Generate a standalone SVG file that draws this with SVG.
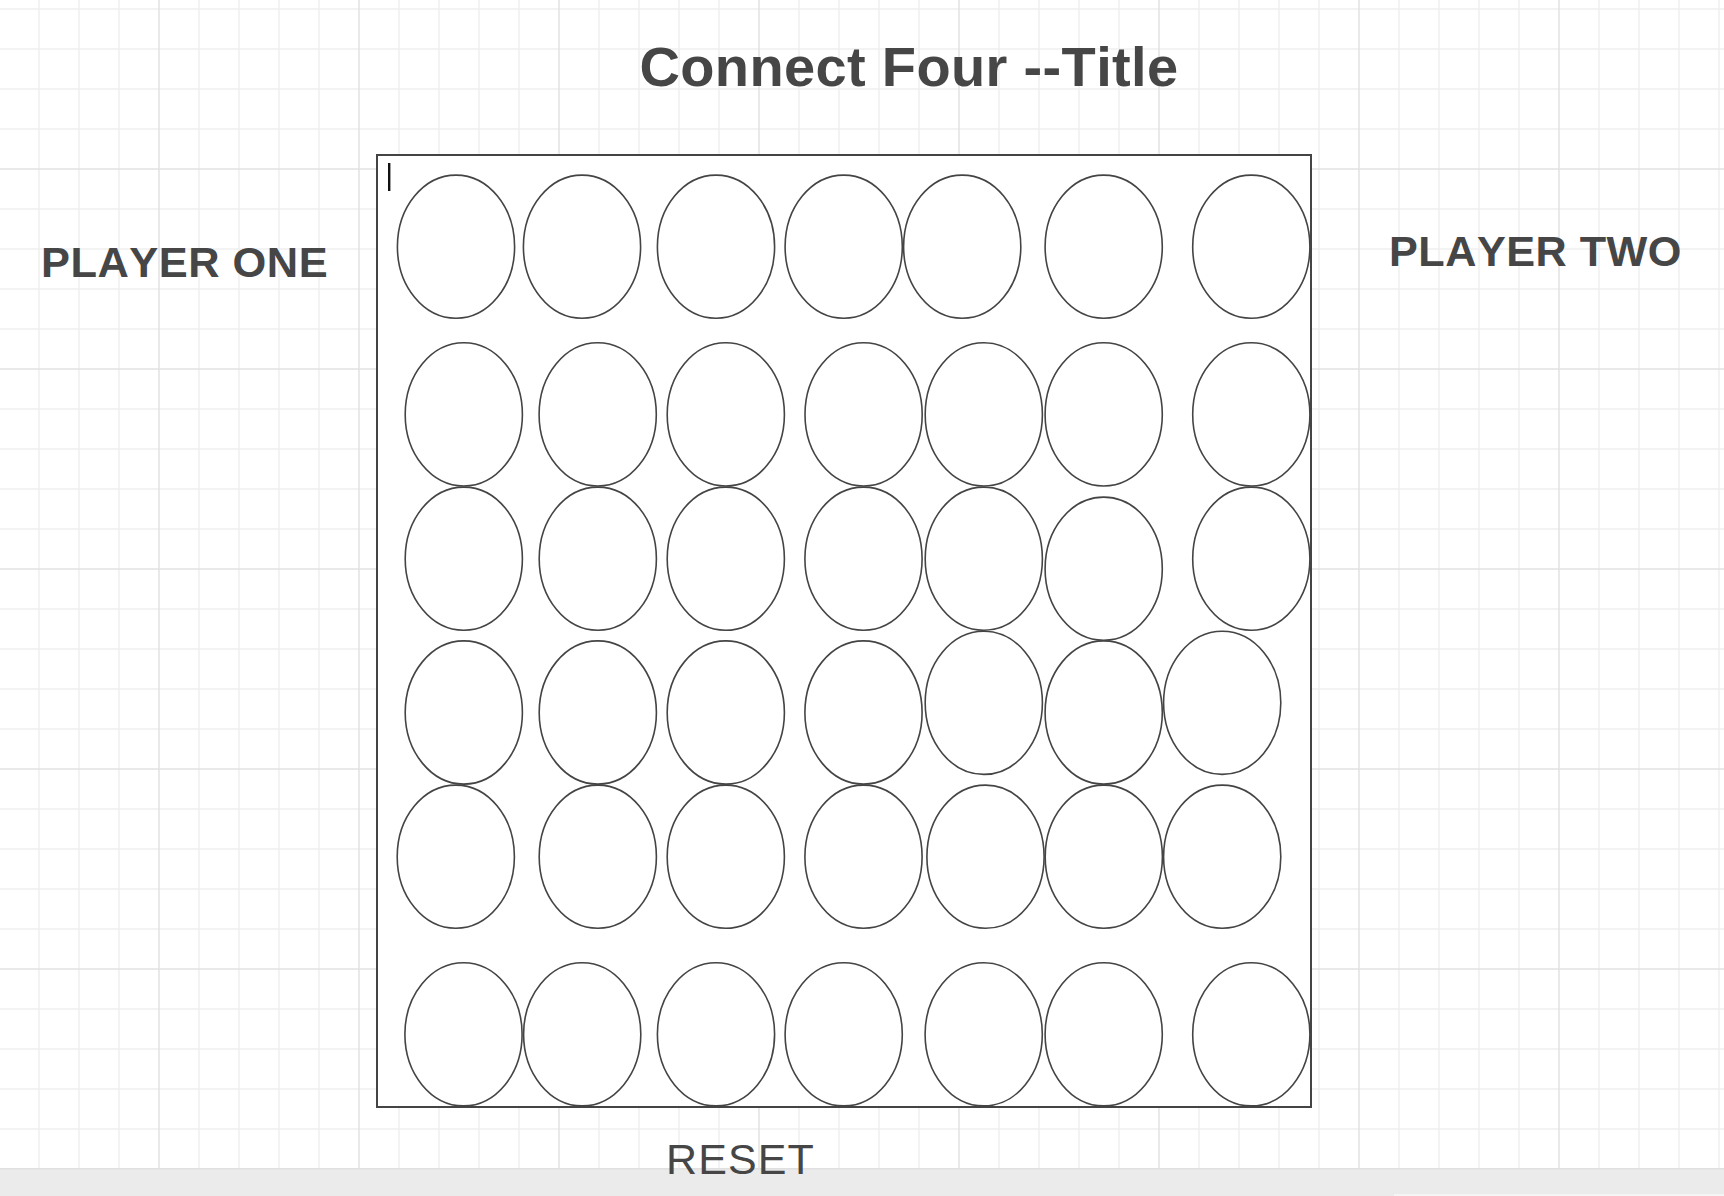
<svg xmlns="http://www.w3.org/2000/svg" width="1724" height="1196" viewBox="0 0 1724 1196">
<style>
.minor{stroke:#efefef;stroke-width:1.5;fill:none}
.major{stroke:#e2e2e2;stroke-width:1.5;fill:none}
.cell{fill:#ffffff;stroke:#444444;stroke-width:1.6}
.board{fill:#ffffff;stroke:#444444;stroke-width:2}
.lbl{font-family:"Liberation Sans",Arial,sans-serif;fill:#464646;font-kerning:none}
.b{font-weight:bold}
</style>
<rect x="0" y="0" width="1724" height="1196" fill="#ffffff"/>
<g id="grid">
<path class="minor" d="M39 0V1168M79 0V1168M119 0V1168M199 0V1168M239 0V1168M279 0V1168M319 0V1168M399 0V1168M439 0V1168M479 0V1168M519 0V1168M599 0V1168M639 0V1168M679 0V1168M719 0V1168M799 0V1168M839 0V1168M879 0V1168M919 0V1168M999 0V1168M1039 0V1168M1079 0V1168M1119 0V1168M1199 0V1168M1239 0V1168M1279 0V1168M1319 0V1168M1399 0V1168M1439 0V1168M1479 0V1168M1519 0V1168M1599 0V1168M1639 0V1168M1679 0V1168M1719 0V1168"/>
<path class="minor" d="M0 9H1724M0 49H1724M0 89H1724M0 129H1724M0 209H1724M0 249H1724M0 289H1724M0 329H1724M0 409H1724M0 449H1724M0 489H1724M0 529H1724M0 609H1724M0 649H1724M0 689H1724M0 729H1724M0 809H1724M0 849H1724M0 889H1724M0 929H1724M0 1009H1724M0 1049H1724M0 1089H1724M0 1129H1724"/>
<path class="major" d="M159 0V1168M359 0V1168M559 0V1168M759 0V1168M959 0V1168M1159 0V1168M1359 0V1168M1559 0V1168M0 169H1724M0 369H1724M0 569H1724M0 769H1724M0 969H1724"/>
</g>
<g id="bottom-bar">
<rect x="0" y="1168" width="1724" height="28" fill="#ebebeb"/>
<rect x="0" y="1168" width="1724" height="1.5" fill="#e0e0e0"/>
<rect x="1394" y="1194" width="330" height="2" fill="#f5f5f5"/>
</g>
<g id="title"><text class="lbl b" x="909" y="86" font-size="56" letter-spacing="0.35" text-anchor="middle">Connect Four --Title</text></g>
<g id="player-one"><text class="lbl b" x="41" y="277" font-size="43.4" letter-spacing="0.5">PLAYER ONE</text></g>
<g id="player-two"><text class="lbl b" x="1389" y="266" font-size="43.2" letter-spacing="0.5">PLAYER TWO</text></g>
<g id="board">
<rect class="board" x="377" y="155" width="934" height="952"/>
<rect x="388" y="163" width="2.4" height="28" fill="#111111"/>
</g>
<g id="cells">
<g id="r1c1"><ellipse class="cell" cx="456" cy="246.7" rx="58.6" ry="71.6"/></g>
<g id="r1c2"><ellipse class="cell" cx="582" cy="246.7" rx="58.6" ry="71.6"/></g>
<g id="r1c3"><ellipse class="cell" cx="716" cy="246.7" rx="58.6" ry="71.6"/></g>
<g id="r1c4"><ellipse class="cell" cx="843.7" cy="246.7" rx="58.6" ry="71.6"/></g>
<g id="r1c5"><ellipse class="cell" cx="962.2" cy="246.7" rx="58.6" ry="71.6"/></g>
<g id="r1c6"><ellipse class="cell" cx="1103.7" cy="246.7" rx="58.6" ry="71.6"/></g>
<g id="r1c7"><ellipse class="cell" cx="1251.3" cy="246.7" rx="58.6" ry="71.6"/></g>
<g id="r2c1"><ellipse class="cell" cx="463.8" cy="414.4" rx="58.6" ry="71.6"/></g>
<g id="r2c2"><ellipse class="cell" cx="597.7" cy="414.4" rx="58.6" ry="71.6"/></g>
<g id="r2c3"><ellipse class="cell" cx="725.8" cy="414.4" rx="58.6" ry="71.6"/></g>
<g id="r2c4"><ellipse class="cell" cx="863.6" cy="414.4" rx="58.6" ry="71.6"/></g>
<g id="r2c5"><ellipse class="cell" cx="983.8" cy="414.4" rx="58.6" ry="71.6"/></g>
<g id="r2c6"><ellipse class="cell" cx="1103.7" cy="414.4" rx="58.6" ry="71.6"/></g>
<g id="r2c7"><ellipse class="cell" cx="1251.3" cy="414.4" rx="58.6" ry="71.6"/></g>
<g id="r3c1"><ellipse class="cell" cx="463.8" cy="558.7" rx="58.6" ry="71.6"/></g>
<g id="r3c2"><ellipse class="cell" cx="597.8" cy="558.7" rx="58.6" ry="71.6"/></g>
<g id="r3c3"><ellipse class="cell" cx="725.8" cy="558.7" rx="58.6" ry="71.6"/></g>
<g id="r3c4"><ellipse class="cell" cx="863.5" cy="558.7" rx="58.6" ry="71.6"/></g>
<g id="r3c5"><ellipse class="cell" cx="983.8" cy="558.7" rx="58.6" ry="71.6"/></g>
<g id="r3c6"><ellipse class="cell" cx="1103.7" cy="568.7" rx="58.6" ry="71.6"/></g>
<g id="r3c7"><ellipse class="cell" cx="1251.3" cy="558.7" rx="58.6" ry="71.6"/></g>
<g id="r4c1"><ellipse class="cell" cx="463.8" cy="712.5" rx="58.6" ry="71.6"/></g>
<g id="r4c2"><ellipse class="cell" cx="597.8" cy="712.5" rx="58.6" ry="71.6"/></g>
<g id="r4c3"><ellipse class="cell" cx="725.8" cy="712.5" rx="58.6" ry="71.6"/></g>
<g id="r4c4"><ellipse class="cell" cx="863.5" cy="712.5" rx="58.6" ry="71.6"/></g>
<g id="r4c5"><ellipse class="cell" cx="983.8" cy="702.8" rx="58.6" ry="71.6"/></g>
<g id="r4c6"><ellipse class="cell" cx="1103.7" cy="712.5" rx="58.6" ry="71.6"/></g>
<g id="r4c7"><ellipse class="cell" cx="1222.2" cy="702.8" rx="58.6" ry="71.6"/></g>
<g id="r5c1"><ellipse class="cell" cx="455.8" cy="856.7" rx="58.6" ry="71.6"/></g>
<g id="r5c2"><ellipse class="cell" cx="597.8" cy="856.7" rx="58.6" ry="71.6"/></g>
<g id="r5c3"><ellipse class="cell" cx="725.8" cy="856.7" rx="58.6" ry="71.6"/></g>
<g id="r5c4"><ellipse class="cell" cx="863.5" cy="856.7" rx="58.6" ry="71.6"/></g>
<g id="r5c5"><ellipse class="cell" cx="985.5" cy="856.7" rx="58.6" ry="71.6"/></g>
<g id="r5c6"><ellipse class="cell" cx="1103.8" cy="856.7" rx="58.6" ry="71.6"/></g>
<g id="r5c7"><ellipse class="cell" cx="1222.2" cy="856.7" rx="58.6" ry="71.6"/></g>
<g id="r6c1"><ellipse class="cell" cx="463.5" cy="1034.3" rx="58.6" ry="71.6"/></g>
<g id="r6c2"><ellipse class="cell" cx="582.2" cy="1034.3" rx="58.6" ry="71.6"/></g>
<g id="r6c3"><ellipse class="cell" cx="716" cy="1034.3" rx="58.6" ry="71.6"/></g>
<g id="r6c4"><ellipse class="cell" cx="843.7" cy="1034.3" rx="58.6" ry="71.6"/></g>
<g id="r6c5"><ellipse class="cell" cx="983.7" cy="1034.3" rx="58.6" ry="71.6"/></g>
<g id="r6c6"><ellipse class="cell" cx="1103.7" cy="1034.3" rx="58.6" ry="71.6"/></g>
<g id="r6c7"><ellipse class="cell" cx="1251.3" cy="1034.3" rx="58.6" ry="71.6"/></g>
</g>
<g id="connectors"></g>
<g id="reset"><text class="lbl" x="666" y="1174" font-size="43" letter-spacing="1.1">RESET</text></g>
</svg>
